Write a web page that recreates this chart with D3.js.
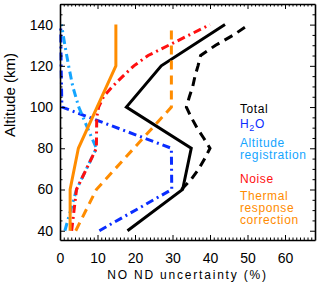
<!DOCTYPE html>
<html>
<head>
<meta charset="utf-8">
<script src="https://cdn.jsdelivr.net/npm/d3@7"></script>
<style>
  body { margin: 0; background: white; }
  text { font-family: "Liberation Sans", Arial, sans-serif; }
</style>
</head>
<body>
<div id="vis1"></div>
<script>
// altitude grid (km) and uncertainty (%) per series
var totalAlt = [40, 60, 80, 100, 120, 140];
var totalVal = [18, 32.7, 35, 17.7, 27, 44];

var total2Alt = [60, 65, 70, 75, 80, 85, 90, 95, 100, 105, 110, 115, 120, 125, 130, 135, 140];
var total2Val = [32.4, 35, 37, 38.6, 40, 38.3, 36.5, 35, 33.7, 34.5, 35.4, 36, 36.8, 37.5, 41.5, 46.3, 50.4];

var h2oAlt = [40, 60, 80, 100, 120, 140];
var h2oVal = [10.5, 29.8, 29.7, 0.5, 0.3, 0.2];

var altRegAlt = [40, 60, 80, 90, 100, 110, 120, 130, 140];
var altRegVal = [1.3, 4.4, 9.7, 7.3, 5, 3.4, 2.3, 1.3, 0.4];

var noiseAlt = [40, 60, 80, 95, 100, 105, 110, 115, 120, 125, 130, 135, 140];
var noiseVal = [3.1, 4.4, 9.7, 9.8, 10.3, 11.6, 14, 16.8, 19.7, 23.5, 29, 34.5, 40];

var thermAlt = [40, 60, 80, 120, 140];
var thermVal = [2.7, 2.7, 4.9, 14.9, 14.9];

var therm2Alt = [40, 60, 100, 140];
var therm2Val = [4.2, 9.7, 29.7, 29.7];

var xTicks = [0, 10, 20, 30, 40, 50, 60];
var yTicks = [40, 60, 80, 100, 120, 140];

var legendLabels = [["Total"], ["H2O"], ["Altitude", "registration"], ["Noise"], ["Thermal", "response", "correction"]];
var legendColors = ["black", "#0a2dff", "#14a5ff", "#ff1010", "#ff8c00"];

var W = 320, H = 287;
var pL = 60, pR = 315, pT = 4, pB = 240;

var svg = d3.select("#vis1")
  .append("svg")
    .attr("width", W)
    .attr("height", H);

var x = d3.scaleLinear().domain([0, 68]).range([pL, pR]);
var y = d3.scaleLinear().domain([35.5, 150]).range([pB, pT]);

// lines
var line = d3.line()
  .x(function(d) { return x(d[1]); })
  .y(function(d) { return y(d[0]); });

var series = [
  {alt: totalAlt, val: totalVal, color: "black", dash: null},
  {alt: total2Alt, val: total2Val, color: "black", dash: "9,6"},
  {alt: h2oAlt, val: h2oVal, color: legendColors[1], dash: "8,4,2,4"},
  {alt: altRegAlt, val: altRegVal, color: legendColors[2], dash: "8,4,2,4"},
  {alt: noiseAlt, val: noiseVal, color: legendColors[3], dash: "8,4,2,4"},
  {alt: thermAlt, val: thermVal, color: legendColors[4], dash: null},
  {alt: therm2Alt, val: therm2Val, color: legendColors[4], dash: "9,6"}
];

series.forEach(function(s) {
  svg.append("path")
    .datum(d3.zip(s.alt, s.val))
    .attr("fill", "none")
    .attr("stroke", s.color)
    .attr("stroke-width", 3)
    .attr("stroke-dasharray", s.dash)
    .attr("d", line);
});

// axes, ticks pointing inward on all four sides
function styleAxis(g) {
  g.select(".domain").attr("stroke", "black").attr("stroke-width", 1.6);
  g.selectAll(".tick line").attr("stroke", "black").attr("stroke-width", 1);
  g.selectAll(".tick text").style("font-size", "14px").attr("fill", "black")
    .style("font-family", "'Liberation Sans', Arial, sans-serif");
}

svg.append("g")
  .attr("transform", "translate(0," + pB + ")")
  .call(d3.axisBottom(x).tickValues(xTicks).tickSizeInner(-5).tickSizeOuter(0).tickPadding(13))
  .call(styleAxis);

svg.append("g")
  .attr("transform", "translate(0," + pT + ")")
  .call(d3.axisTop(x).tickValues(xTicks).tickSizeInner(-5).tickSizeOuter(0).tickFormat(""))
  .call(styleAxis);

svg.append("g")
  .attr("transform", "translate(" + pL + ",0)")
  .call(d3.axisLeft(y).tickValues(yTicks).tickSizeInner(-5).tickSizeOuter(0).tickPadding(7))
  .call(styleAxis);

svg.append("g")
  .attr("transform", "translate(" + pR + ",0)")
  .call(d3.axisRight(y).tickValues(yTicks).tickSizeInner(-5).tickSizeOuter(0).tickFormat(""))
  .call(styleAxis);

// minor ticks
var xMinor = d3.range(1, 68, 1).filter(function(v) { return v % 10 != 0; });
var yMinor = d3.range(40, 150, 5).filter(function(v) { return v % 20 != 0; });

[[d3.axisBottom(x), pB], [d3.axisTop(x), pT]].forEach(function(a) {
  svg.append("g")
    .attr("transform", "translate(0," + a[1] + ")")
    .call(a[0].tickValues(xMinor).tickSizeInner(-2.5).tickSizeOuter(0).tickFormat(""))
    .call(function(g) { g.select(".domain").remove(); g.selectAll("line").attr("stroke", "black"); });
});

[[d3.axisLeft(y), pL], [d3.axisRight(y), pR]].forEach(function(a) {
  svg.append("g")
    .attr("transform", "translate(" + a[1] + ",0)")
    .call(a[0].tickValues(yMinor).tickSizeInner(-2.5).tickSizeOuter(0).tickFormat(""))
    .call(function(g) { g.select(".domain").remove(); g.selectAll("line").attr("stroke", "black"); });
});

// axis titles
svg.append("text")
  .attr("x", (pL + pR) / 2)
  .attr("y", 278.5)
  .attr("text-anchor", "middle")
  .style("font-size", "12px")
  .style("letter-spacing", "1.8px")
  .text("NO ND uncertainty (%)");

svg.append("text")
  .attr("transform", "translate(15,95) rotate(-90)")
  .attr("text-anchor", "middle")
  .style("font-size", "15px")
  .text("Altitude (km)");

// legend
var legendY = [[113.3], [128.3], [146.7, 159.3], [182.7], [200, 212, 224]];

legendLabels.forEach(function(lines, i) {
  lines.forEach(function(t, j) {
    var txt = svg.append("text")
      .attr("x", 240)
      .attr("y", legendY[i][j])
      .attr("fill", legendColors[i])
      .style("font-size", "12px")
      .style("letter-spacing", "0.6px");
    if (t == "H2O") {
      txt.append("tspan").text("H");
      txt.append("tspan").attr("dy", 3).style("font-size", "9px").text("2");
      txt.append("tspan").attr("dy", -3).text("O");
    } else {
      txt.text(t);
    }
  });
});
</script>
</body>
</html>
